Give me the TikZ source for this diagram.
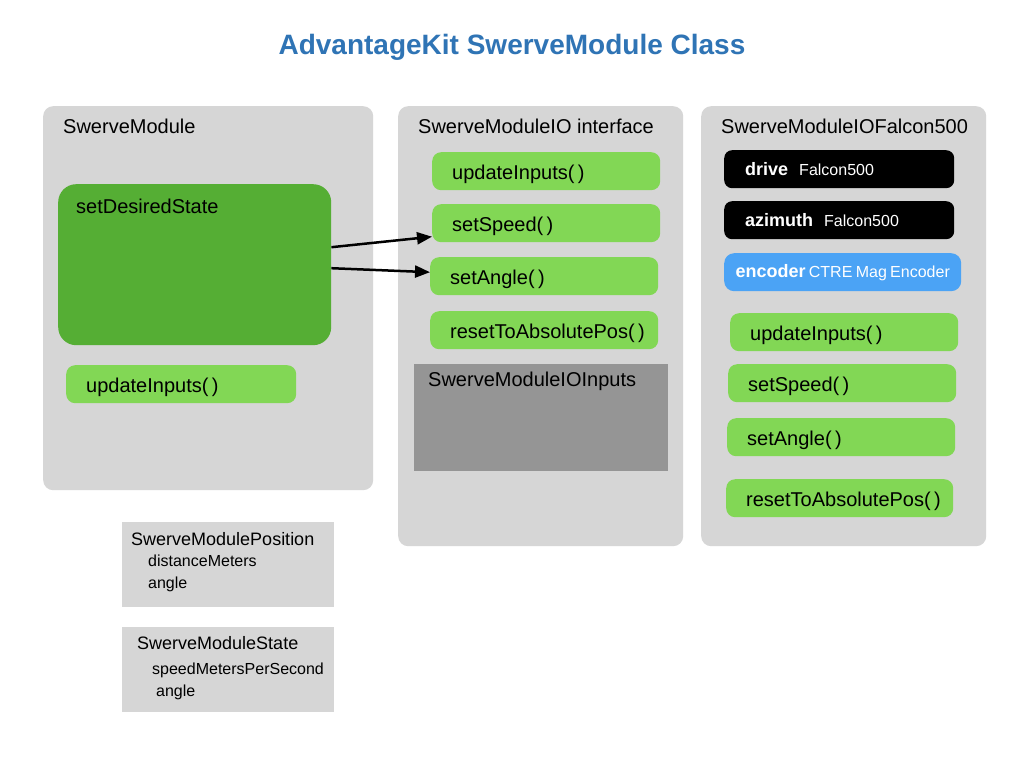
\documentclass[tikz,border=0pt]{standalone}
\usepackage{fontspec}
\setmainfont{Liberation Sans}
\usetikzlibrary{arrows.meta,positioning}
\definecolor{panelgray}{HTML}{D6D6D6}
\definecolor{inputgray}{HTML}{959595}
\definecolor{darkgreen}{HTML}{55AE34}
\definecolor{lightgreen}{HTML}{82D755}
\definecolor{encblue}{HTML}{4BA3F5}
\definecolor{titleblue}{HTML}{2F74B5}
\begin{document}
\begin{tikzpicture}[
		x=1pt, y=-1pt,
		box/.style={anchor=north west, inner sep=0pt},
		panel/.style={box, fill=panelgray, rounded corners=10pt, minimum width=285pt, minimum height=440pt},
		head/.style={anchor=west, inner sep=0pt, font=\fontsize{20}{24}\selectfont},
		small/.style={anchor=west, inner sep=0pt, font=\fontsize{16}{19}\selectfont},
		method/.style={box, fill=lightgreen, rounded corners=9pt, minimum height=38pt, inner xsep=20pt, text width=188pt, text height=18pt, text depth=2pt, align=left, font=\fontsize{20}{24}\selectfont},
		motor/.style={box, fill=black, text=white, rounded corners=8pt, minimum height=38pt, inner xsep=21pt, text width=188pt, align=left},
		note/.style={box, fill=panelgray, minimum width=212pt, minimum height=85pt},
		arr/.style={-{Triangle[length=15pt,width=12pt]}, line width=2.5pt}
	]
	\fill[white, use as bounding box] (0,0) rectangle (1024,768);

	\node [text=titleblue, font=\bfseries\fontsize{28}{32}\selectfont] (title) at (512,47) {AdvantageKit SwerveModule Class} ;

	\node [panel, minimum width=330pt, minimum height=384pt] (SM) at (43,106) {} ;
	\node [head] (SMt) at (63,126) {SwerveModule} ;
	\node [box, fill=darkgreen, rounded corners=18pt, minimum width=273pt, minimum height=161pt] (SD) at (58,184) {} ;
	\node [head] (SDt) at (76,206) {setDesiredState} ;
	\node [method, text width=190pt] (SMup) at (66,365) {updateInputs(\,)} ;

	\node [panel] (IO) at (398,106) {} ;
	\node [head] (IOt) at (418,126) {SwerveModuleIO interface} ;
	\node [method] (IOup)    at (432,152) {updateInputs(\,)} ;
	\node [method] (IOspeed) at (432,204) {setSpeed(\,)} ;
	\node [method] (IOangle) at (430,257) {setAngle(\,)} ;
	\node [method] (IOreset) at (430,311) {\mbox{resetToAbsolutePos(\,)}} ;
	\node [box, fill=inputgray, minimum width=254pt, minimum height=107pt] (IOin) at (414,364) {} ;
	\node [head] (IOint) at (428,381) {SwerveModuleIOInputs} ;

	\node [panel] (FX) at (701,106) {} ;
	\node [head] (FXt) at (721,126) {SwerveModuleIOFalcon500} ;
	\node [motor] (drive) at (724,150) {{\bfseries\fontsize{18}{22}\selectfont drive}\hspace{11pt}{\fontsize{16}{19}\selectfont Falcon500}} ;
	\node [motor] (azim)  at (724,201) {{\bfseries\fontsize{18}{22}\selectfont azimuth}\hspace{11pt}{\fontsize{16}{19}\selectfont Falcon500}} ;
	\node [motor, fill=encblue, rounded corners=10pt, inner xsep=6pt, text width=225pt, align=center] (enc) at (724,253) {{\bfseries\fontsize{18}{22}\selectfont encoder} {\fontsize{16}{19}\selectfont CTRE Mag Encoder}} ;
	\node [method] (FXup)    at (730,313) {updateInputs(\,)} ;
	\node [method] (FXspeed) at (728,364) {setSpeed(\,)} ;
	\node [method] (FXangle) at (727,418) {setAngle(\,)} ;
	\node [method, text width=187pt] (FXreset) at (726,479) {\mbox{resetToAbsolutePos(\,)}} ;

	\node [note] (pos) at (122,522) {} ;
	\node [head, font=\fontsize{18}{22}\selectfont] (posA) at (131,539) {SwerveModulePosition} ;
	\node [small] (posB) at (148,561) {distanceMeters} ;
	\node [small] (posC) at (148,584) {angle} ;

	\node [note] (state) at (122,627) {} ;
	\node [head, font=\fontsize{18}{22}\selectfont] (stateA) at (137,643) {SwerveModuleState} ;
	\node [small] (stateB) at (152,670) {speedMetersPerSecond} ;
	\node [small] (stateC) at (156,692) {angle} ;

	\draw [arr] ([yshift=17.5pt]SD.east) -- ([yshift=-13.5pt]IOspeed.west) ;
	\draw [arr] ([yshift=-3.5pt]SD.east) -- ([yshift=4pt]IOangle.west) ;
\end{tikzpicture}
\end{document}
